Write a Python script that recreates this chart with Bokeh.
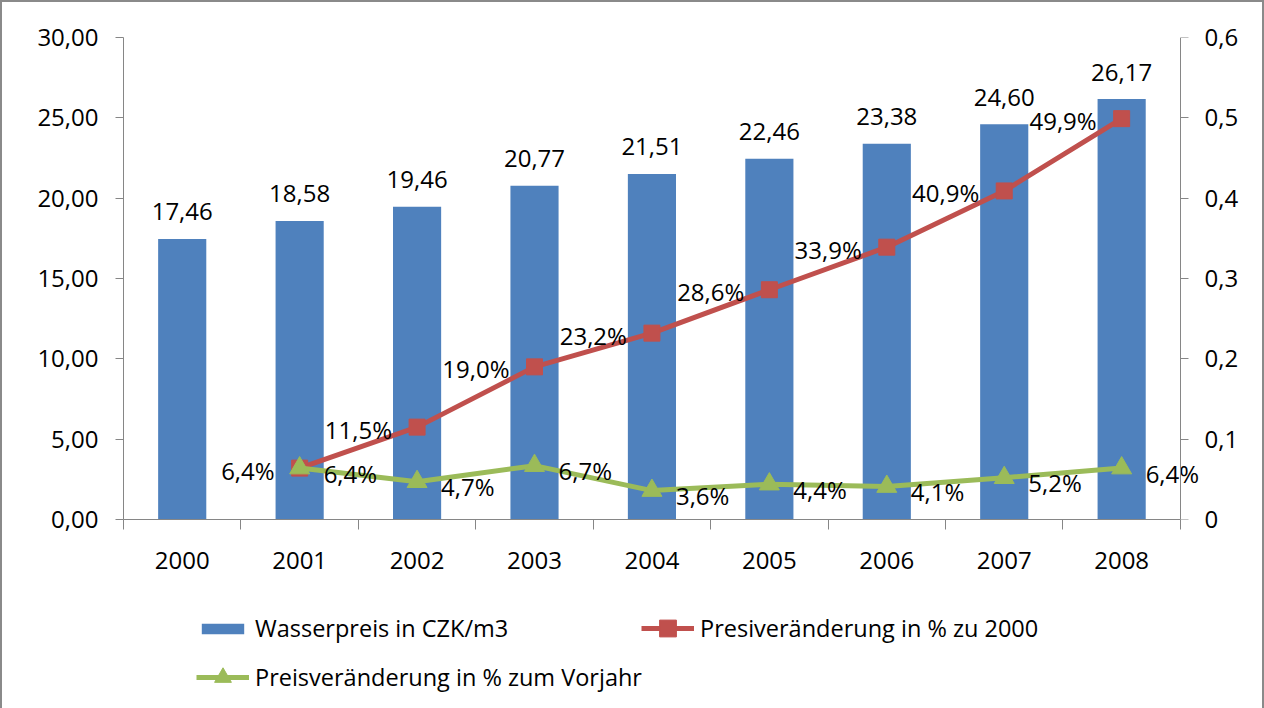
from bokeh.plotting import figure
from bokeh.layouts import column
from bokeh.models import (ColumnDataSource, LinearAxis, Range1d, FixedTicker,
                          CustomJSTickFormatter, Legend, LegendItem)
from bokeh.core.properties import value
from bokeh.embed import file_html
from bokeh.resources import INLINE

years = ["2000", "2001", "2002", "2003", "2004", "2005", "2006", "2007", "2008"]
price = [17.46, 18.58, 19.46, 20.77, 21.51, 22.46, 23.38, 24.60, 26.17]
pct_years = ["2001", "2002", "2003", "2004", "2005", "2006", "2007", "2008"]
pct_to_2000 = [0.064, 0.115, 0.190, 0.232, 0.286, 0.339, 0.409, 0.499]
pct_prev_year = [0.064, 0.047, 0.067, 0.036, 0.044, 0.041, 0.052, 0.064]
legend_labels = ["Wasserpreis in CZK/m3", "Presiveränderung in % zu 2000",
                 "Preisveränderung in % zum Vorjahr"]
left_ticks = [0, 5, 10, 15, 20, 25, 30]
right_ticks = [0, 0.1, 0.2, 0.3, 0.4, 0.5, 0.6]

FONT = "Open Sans"
FS = "24px"
BLUE = "#4F81BD"
RED = "#C0504D"
GREEN = "#9BBB59"
AXIS = "#868686"
BORDER = "2px solid #8a8a8a"

n = len(years)
xpos = [years.index(y) + 0.5 for y in years]
pxpos = [years.index(y) + 0.5 for y in pct_years]

bar_src = ColumnDataSource(dict(x=xpos, y=price,
                                lab=[f"{v:.2f}".replace(".", ",") for v in price]))
red_src = ColumnDataSource(dict(x=pxpos, y=pct_to_2000,
                                lab=[f"{v*100:.1f}%".replace(".", ",") for v in pct_to_2000]))
grn_src = ColumnDataSource(dict(x=pxpos, y=pct_prev_year,
                                lab=[f"{v*100:.1f}%".replace(".", ",") for v in pct_prev_year]))

p = figure(width=1264, height=590, output_backend="svg", toolbar_location=None,
           x_range=Range1d(0, n + 0.197), y_range=Range1d(0, 30),
           min_border_left=121, min_border_right=63, min_border_top=35,
           min_border_bottom=73)
p.outline_line_color = None
p.xgrid.visible = False
p.ygrid.visible = False
p.styles = {"border-left": BORDER, "border-top": BORDER, "border-right": BORDER,
            "box-sizing": "border-box"}

p.extra_y_ranges = {"pct": Range1d(0, 0.6)}

# x axis
xa = p.xaxis[0]
xa.ticker = FixedTicker(ticks=xpos, minor_ticks=list(range(n + 1)))
xa.formatter = CustomJSTickFormatter(args=dict(labels=years),
                                     code="return labels[Math.floor(tick)] || '';")
xa.bounds = (0, n)
xa.major_tick_out = 0
xa.major_tick_in = 0
xa.minor_tick_out = 10
xa.minor_tick_in = 0
xa.minor_tick_line_color = AXIS
xa.axis_line_color = AXIS
xa.major_label_standoff = 22

# left axis
ya = p.yaxis[0]
ya.ticker = FixedTicker(ticks=left_ticks)
ya.formatter = CustomJSTickFormatter(code='return tick.toFixed(2).replace(".", ",");')
ya.major_tick_out = 8
ya.major_tick_in = 0
ya.minor_tick_out = 0
ya.minor_tick_in = 0
ya.major_tick_line_color = AXIS
ya.axis_line_color = AXIS
ya.major_label_standoff = 17

# right axis: labels in the side panel ...
ra_lab = LinearAxis(y_range_name="pct")
ra_lab.ticker = FixedTicker(ticks=right_ticks)
ra_lab.formatter = CustomJSTickFormatter(
    code='return tick === 0 ? "0" : tick.toFixed(1).replace(".", ",");')
ra_lab.axis_line_color = None
ra_lab.major_tick_line_color = None
ra_lab.major_tick_out = 0
ra_lab.major_tick_in = 0
ra_lab.minor_tick_out = 0
ra_lab.minor_tick_in = 0
ra_lab.major_label_standoff = 1
p.add_layout(ra_lab, "right")

# ... line and ticks at the end of the last category
ra_line = LinearAxis(y_range_name="pct", fixed_location=n)
ra_line.ticker = FixedTicker(ticks=right_ticks)
ra_line.formatter = CustomJSTickFormatter(code='return "";')
ra_line.major_tick_out = 8
ra_line.major_tick_in = 0
ra_line.minor_tick_out = 0
ra_line.minor_tick_in = 0
ra_line.major_tick_line_color = AXIS
ra_line.axis_line_color = AXIS
ra_line.major_label_standoff = 0
p.add_layout(ra_line, "right")

for ax in (xa, ya, ra_lab):
    ax.major_label_text_font = FONT
    ax.major_label_text_font_size = FS
    ax.major_label_text_color = "#000000"

# bars
p.vbar(x="x", top="y", width=0.41, source=bar_src, fill_color=BLUE, line_color=None)
p.text(x="x", y="y", text="lab", source=bar_src, text_align="center",
       text_baseline="middle", y_offset=-27, text_font=value(FONT),
       text_font_size=FS, text_color="#000000")

# red line
p.line(x="x", y="y", source=red_src, y_range_name="pct", line_color=RED, line_width=5)
p.scatter(x="x", y="y", source=red_src, y_range_name="pct", marker="square",
          size=16, fill_color=RED, line_color=RED)
# green line
p.line(x="x", y="y", source=grn_src, y_range_name="pct", line_color=GREEN, line_width=5)
p.scatter(x="x", y="y", source=grn_src, y_range_name="pct", marker="triangle",
          size=20, fill_color=GREEN, line_color=GREEN)

p.text(x="x", y="y", text="lab", source=red_src, y_range_name="pct",
       text_align="right", text_baseline="middle", x_offset=-25, y_offset=2,
       text_font=value(FONT), text_font_size=FS, text_color="#000000")
p.text(x="x", y="y", text="lab", source=grn_src, y_range_name="pct",
       text_align="left", text_baseline="middle", x_offset=24, y_offset=5,
       text_font=value(FONT), text_font_size=FS, text_color="#000000")

# legend strip (separate figure so nothing is clipped); its proxy renderers
# use the real data but lie outside this strip's visible ranges
lf = figure(width=1264, height=118, output_backend="svg", toolbar_location=None,
            x_range=Range1d(1000, 1001), y_range=Range1d(1000, 1001),
            x_axis_location=None, y_axis_location=None,
            min_border_left=0, min_border_right=0, min_border_top=0, min_border_bottom=0)
lf.grid.visible = False
lf.outline_line_color = None
lf.styles = {"border-left": BORDER, "border-right": BORDER, "box-sizing": "border-box"}

lb = lf.vbar(x="x", top="y", width=0.4, source=bar_src, fill_color=BLUE, line_color=None)
lrl = lf.line(x="x", y="y", source=red_src, line_color=RED, line_width=5)
lrm = lf.scatter(x="x", y="y", source=red_src, marker="square", size=14,
                 fill_color=RED, line_color=RED)
lgl = lf.line(x="x", y="y", source=grn_src, line_color=GREEN, line_width=5)
lgm = lf.scatter(x="x", y="y", source=grn_src, marker="triangle", size=17,
                 fill_color=GREEN, line_color=GREEN)


def make_legend(label, renderers, loc, gh):
    lg = Legend(items=[LegendItem(label=label, renderers=renderers)], location=loc,
                glyph_width=53, glyph_height=gh, label_height=30, label_standoff=6,
                spacing=0, padding=0, margin=0, border_line_color=None,
                background_fill_alpha=0, label_text_font=FONT,
                label_text_font_size="23.5px", label_text_color="#000000")
    lf.add_layout(lg, "center")


make_legend(legend_labels[0], [lb], (73, 64), 13)
make_legend(legend_labels[1], [lrl, lrm], (518, 59), 42)
make_legend(legend_labels[2], [lgl, lgm], (73, 10), 42)

page = column(p, lf, spacing=0)
open("out.html", "w").write(file_html(page, INLINE))
